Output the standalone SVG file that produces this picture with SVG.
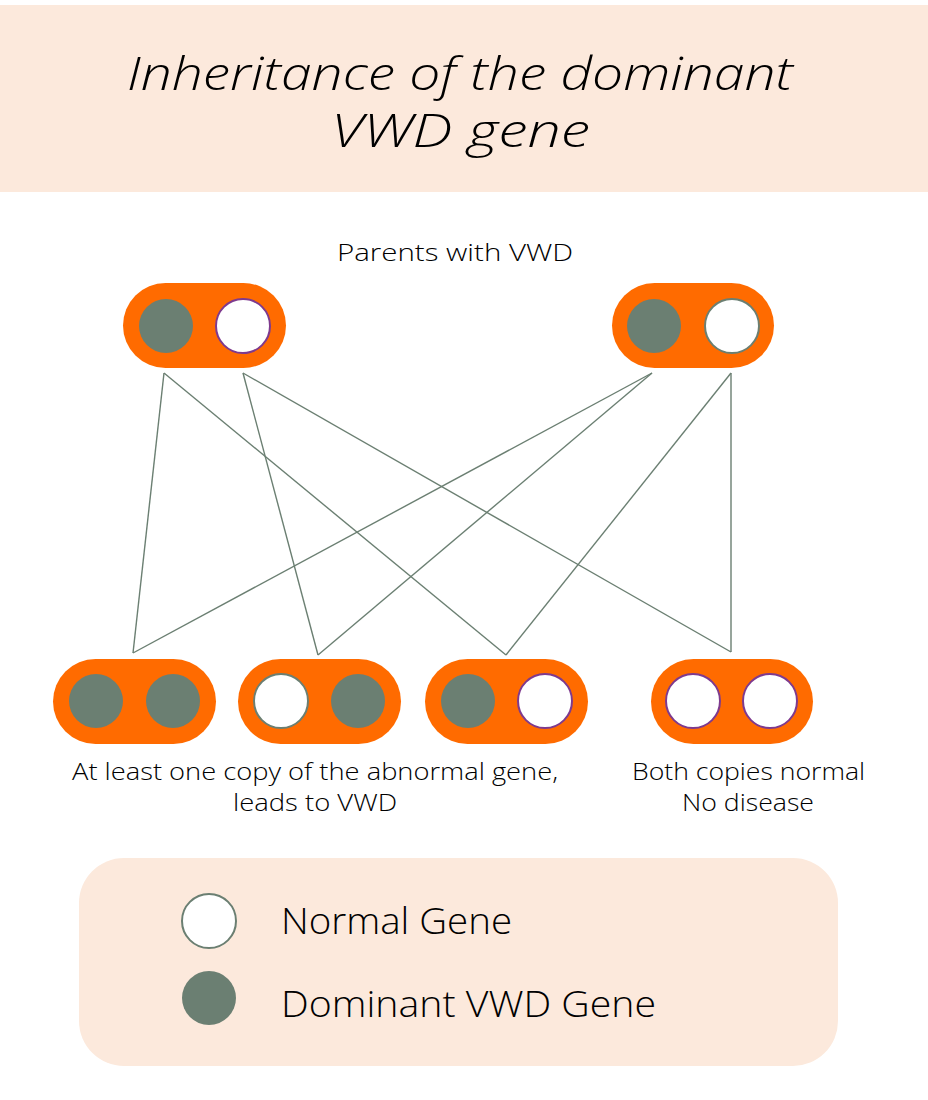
<svg xmlns="http://www.w3.org/2000/svg" width="928" height="1100" viewBox="0 0 928 1100">
<style>
.pill{fill:#FF6B00}
.dom{fill:#6B7F72}
.nrm{fill:#FFFFFF;stroke:#6B7F72;stroke-width:2}
.nrmp{fill:#FFFFFF;stroke:#7E3A8E;stroke-width:2}
.lbl{font-family:"Open Sans","Noto Sans","Liberation Sans",sans-serif;font-weight:300;fill:#000}
.conn line{stroke:#6B7F72;stroke-width:1.4;fill:none}
</style>
<rect x="0" y="0" width="928" height="1100" fill="#FFFFFF"/>
<g id="title">
<rect x="0" y="5" width="928" height="187" fill="#FCE9DC"/>
<text class="lbl" x="460" y="90" font-size="46" font-style="italic" text-anchor="middle" textLength="666" lengthAdjust="spacingAndGlyphs">Inheritance of the dominant</text>
<text class="lbl" x="460.5" y="147" font-size="46" font-style="italic" text-anchor="middle" textLength="259" lengthAdjust="spacingAndGlyphs">VWD gene</text>
</g>
<g id="parents-label"><text class="lbl" x="455" y="261" font-size="24" text-anchor="middle" textLength="236" lengthAdjust="spacingAndGlyphs">Parents with VWD</text></g>
<g class="conn" id="connectors">
<line x1="164" y1="373" x2="133" y2="653"/>
<line x1="164" y1="373" x2="506" y2="655"/>
<line x1="243" y1="373" x2="318" y2="655"/>
<line x1="243" y1="373" x2="731" y2="652"/>
<line x1="652" y1="373" x2="133" y2="653"/>
<line x1="652" y1="373" x2="318" y2="655"/>
<line x1="731" y1="373" x2="506" y2="655"/>
<line x1="731" y1="373" x2="731" y2="652"/>
</g>
<g id="parent1">
<rect class="pill" x="123" y="283" width="163" height="85" rx="42.5"/>
<circle class="dom" cx="166" cy="326" r="27"/>
<circle class="nrmp" cx="243" cy="326" r="27"/>
</g>
<g id="parent2">
<rect class="pill" x="612" y="283" width="162" height="85" rx="42.5"/>
<circle class="dom" cx="654" cy="326" r="27"/>
<circle class="nrm" cx="732" cy="326" r="27"/>
</g>
<g id="child1">
<rect class="pill" x="53" y="659" width="163" height="85" rx="42.5"/>
<circle class="dom" cx="96" cy="701" r="27"/>
<circle class="dom" cx="173" cy="701" r="27"/>
</g>
<g id="child2">
<rect class="pill" x="238" y="659" width="163" height="85" rx="42.5"/>
<circle class="nrm" cx="281" cy="701" r="27"/>
<circle class="dom" cx="358" cy="701" r="27"/>
</g>
<g id="child3">
<rect class="pill" x="425" y="659" width="163" height="85" rx="42.5"/>
<circle class="dom" cx="468" cy="701" r="27"/>
<circle class="nrmp" cx="545" cy="701" r="27"/>
</g>
<g id="child4">
<rect class="pill" x="651" y="659" width="162" height="85" rx="42.5"/>
<circle class="nrmp" cx="693" cy="701" r="27"/>
<circle class="nrmp" cx="770" cy="701" r="27"/>
</g>
<g id="labels">
<text class="lbl" x="315" y="780" font-size="24" text-anchor="middle" textLength="486" lengthAdjust="spacingAndGlyphs">At least one copy of the abnormal gene,</text>
<text class="lbl" x="315" y="811" font-size="24" text-anchor="middle" textLength="164" lengthAdjust="spacingAndGlyphs">leads to VWD</text>
<text class="lbl" x="748.5" y="780" font-size="24" text-anchor="middle" textLength="233" lengthAdjust="spacingAndGlyphs">Both copies normal</text>
<text class="lbl" x="748" y="811" font-size="24" text-anchor="middle" textLength="132" lengthAdjust="spacingAndGlyphs">No disease</text>
</g>
<g id="legend">
<rect x="79" y="858" width="759" height="208" rx="45" fill="#FCE9DC"/>
<circle class="nrm" cx="209" cy="921" r="27"/>
<circle class="dom" cx="209" cy="998" r="27"/>
<text class="lbl" x="281" y="934" font-size="36" textLength="231" lengthAdjust="spacingAndGlyphs">Normal Gene</text>
<text class="lbl" x="281" y="1017" font-size="36" textLength="375" lengthAdjust="spacingAndGlyphs">Dominant VWD Gene</text>
</g>
</svg>
